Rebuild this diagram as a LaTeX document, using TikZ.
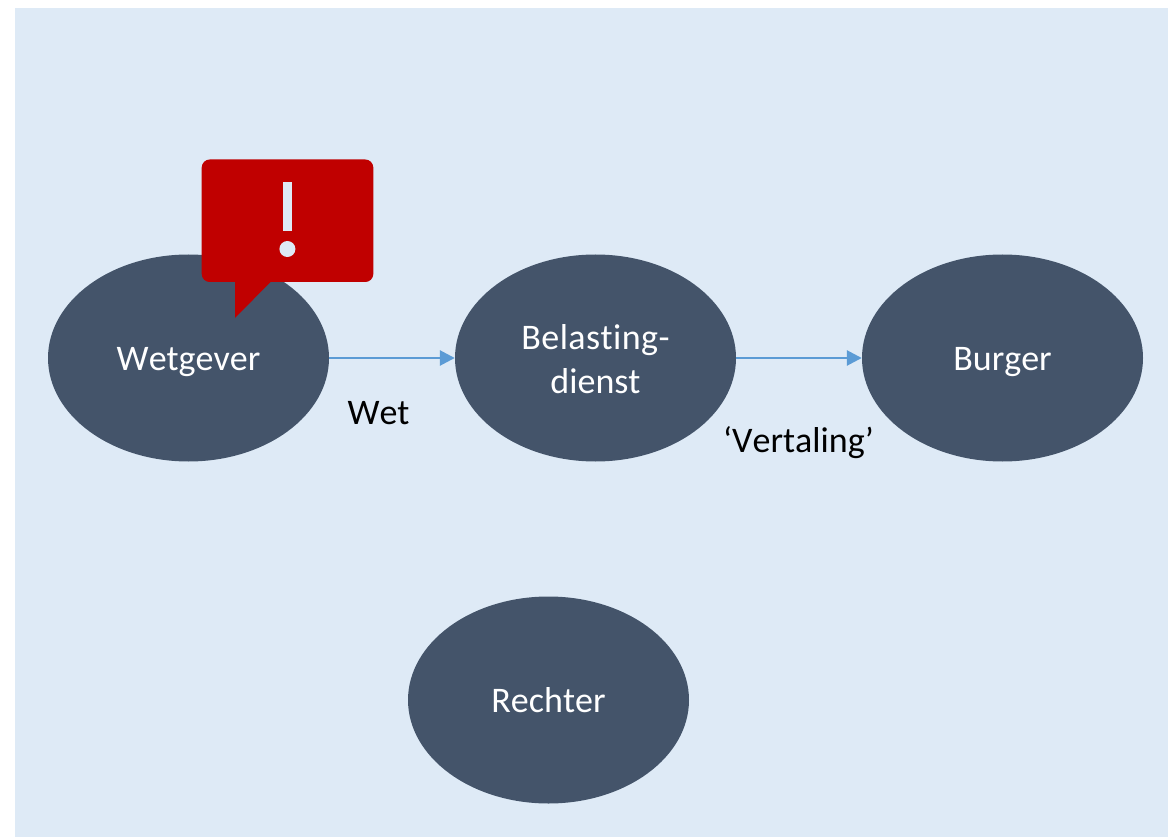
\documentclass[tikz,border=0pt]{standalone}
\usepackage{fontspec}
\setmainfont[RawFeature={-liga;-clig;-kern}]{Carlito}
\definecolor{bgc}{HTML}{DEEAF6}
\definecolor{ell}{HTML}{44546A}
\definecolor{arr}{HTML}{5B9BD5}
\definecolor{alarm}{HTML}{C00000}
\usetikzlibrary{arrows.meta,shapes.geometric}
\newcommand\dropline[1]{\raisebox{-1pt}[\height][\depth]{#1}}
\tikzset{
  actor/.style={ellipse,fill=ell,text=white,minimum width=281pt,minimum height=207pt,inner sep=0pt,font=\fontsize{36}{44}\selectfont,align=center},
  oneline/.style={text height=24pt,text depth=0pt},
  flow/.style={draw=arr,line width=2.7pt,-{Triangle[length=15pt,width=15pt]}},
  lab/.style={font=\fontsize{36}{44}\selectfont,text=black,inner sep=0pt}
}
\begin{document}
\begin{tikzpicture}[x=1pt,y=-1pt]
\useasboundingbox (0,0) rectangle (1168,837);
\fill[white] (0,0) rectangle (1168,837);
\fill[bgc] (15,8) rectangle (1168,837);
\node[actor,oneline] (w) at (188.5,358) {Wetgever};
\node[actor] (b) at (595.5,358) {\addfontfeature{LetterSpace=1.2}\dropline{Belasting-}\\\dropline{dienst}};
\node[actor,oneline] (u) at (1002.5,358) {Burger};
\node[actor,oneline] (r) at (548.5,700) {Rechter};
\draw[flow] (w) -- (b);
\draw[flow] (b) -- (u);
\node[lab] (l1) at (378.5,413) {Wet};
\node[lab] (l2) at (798.5,442.5) {‘Vertaling’};
\fill[alarm,rounded corners=8pt] (201.7,159.5) rectangle (373.3,282);
\fill[alarm] (235,281) -- (235,318) -- (271.5,281) -- cycle;
\fill[bgc] (283.3,182.3) rectangle (291.7,231.3);
\fill[bgc] (287.4,249) circle (8);
\end{tikzpicture}
\end{document}
